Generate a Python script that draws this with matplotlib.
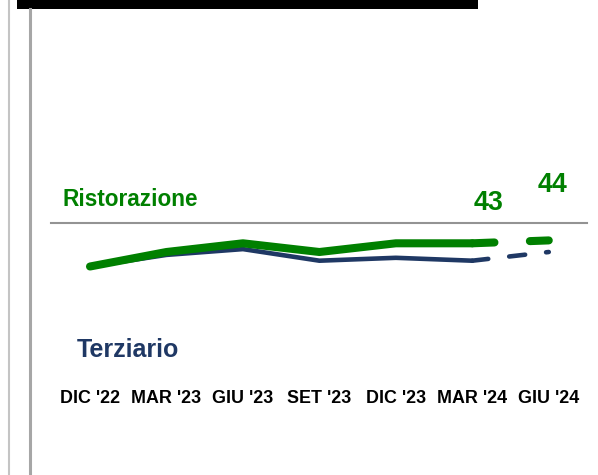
import matplotlib
matplotlib.use("Agg")
import matplotlib.pyplot as plt
from matplotlib.patches import Rectangle
from matplotlib.lines import Line2D

# data
periods = ["DIC '22", "MAR '23", "GIU '23", "SET '23", "DIC '23", "MAR '24", "GIU '24"]
ristorazione = [35, 40, 43, 40, 43, 43, 44]
terziario = [35, 39, 41, 37, 38, 37, 40]
labelled = {5: "43", 6: "44"}  # index -> label shown above the green line

GREEN = "#008000"
NAVY = "#1F3864"
W, H = 598, 475

plt.rcParams["font.family"] = ["Liberation Sans", "DejaVu Sans"]
plt.rcParams["font.weight"] = "bold"

fig = plt.figure(figsize=(W / 100, H / 100), dpi=100)

def px(x, y):
    return x / W, 1 - y / H

# decorations around the panel
fig.patches.append(Rectangle(px(17, 9), (478 - 17) / W, 9 / H, transform=fig.transFigure,
                             facecolor="black", edgecolor="none"))
fig.lines.append(Line2D([8.8 / W] * 2, [0, 1], transform=fig.transFigure, color="#C4C4C4", lw=1.5))
fig.lines.append(Line2D([30 / W] * 2, [0, 1 - 9 / H], transform=fig.transFigure, color="#A6A6A6", lw=2.2))

ax = fig.add_axes([51 / W, (H - 300) / H, (587 - 51) / W, 77 / H])
ax.set_xlim(-0.51, 6.5)
ax.set_ylim(23.45, 50)
for s in ["left", "right", "bottom"]:
    ax.spines[s].set_visible(False)
ax.spines["top"].set_color("#939393")
ax.spines["top"].set_linewidth(1.5)
ax.set_yticks([])
ax.set_xticks(range(len(periods)), periods)
ax.tick_params(axis="x", length=0, pad=65, labelsize=12.9, labelcolor="black")

x = list(range(len(periods)))
n = len(periods) - 1

# navy (Terziario): solid up to MAR '24, dashed to GIU '24
ax.plot(x[:n], terziario[:n], color=NAVY, lw=3.3, solid_capstyle="round", solid_joinstyle="round")
ln, = ax.plot(x[n - 1:], terziario[n - 1:], color=NAVY, lw=3.3, dash_capstyle="round")
ln.set_dashes((3.5, 4.6))

# green (Ristorazione)
ax.plot(x[:n], ristorazione[:n], color=GREEN, lw=5.8, solid_capstyle="round", solid_joinstyle="round")
lg, = ax.plot(x[n - 1:], ristorazione[n - 1:], color=GREEN, lw=5.8, dash_capstyle="round")
lg.set_dashes((2.75, 4.4))

offsets = {5: (12, 29), 6: (2.5, 40)}
for i, txt in labelled.items():
    ax.annotate(txt, (x[i], ristorazione[i]), xytext=offsets[i], textcoords="offset points",
                ha="center", va="center", color=GREEN, fontsize=19.4, fontweight="bold")

fig.text(*px(63, 206), "Ristorazione", color=GREEN, fontsize=16.3, fontweight="bold", va="baseline")
fig.text(*px(77, 357), "Terziario", color=NAVY, fontsize=18, fontweight="bold", va="baseline")

fig.savefig("out.png", dpi=100)
